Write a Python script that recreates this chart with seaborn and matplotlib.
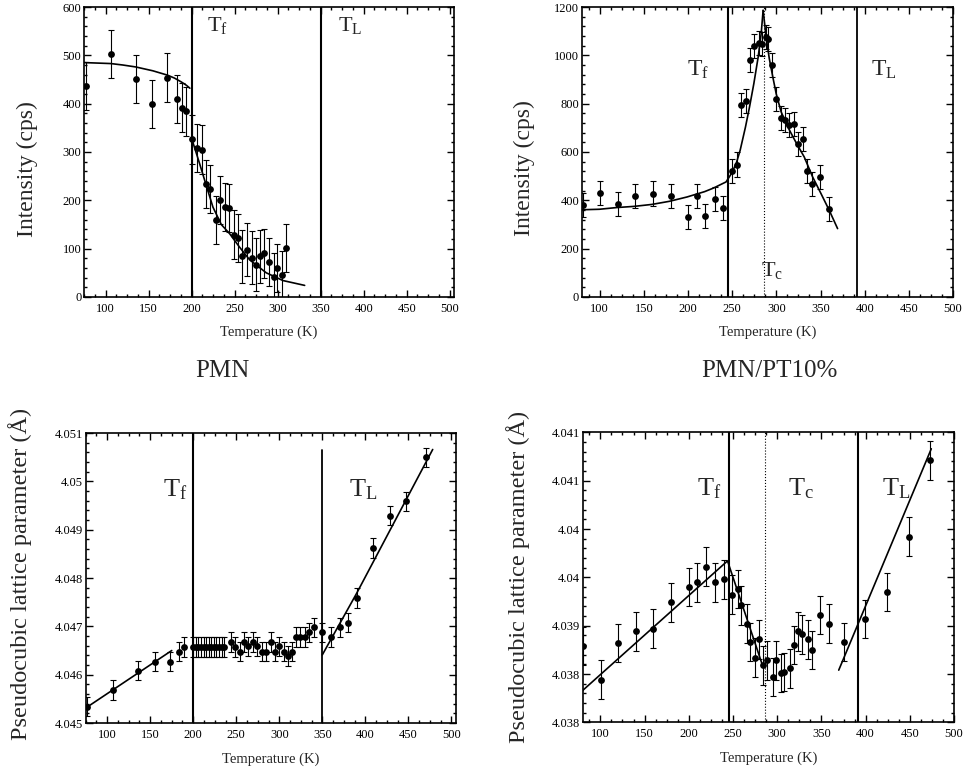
import numpy as np
import pandas as pd
import seaborn as sns
import matplotlib.pyplot as plt
from matplotlib.ticker import MultipleLocator, AutoMinorLocator, FixedLocator

# ---------------- data ----------------
# PMN, diffuse intensity
pmn_T = [76.7, 105.8, 134.9, 154.3, 171.7, 182.9, 188.4, 193.0, 200.0, 206.2,
         211.6, 216.3, 221.7, 227.9, 233.3, 238.8, 243.4, 248.8, 254.3, 258.9,
         264.3, 269.8, 275.2, 279.1, 284.5, 289.9, 295.3, 299.2, 304.7, 309.3]
pmn_I = [436, 503, 451, 399, 454, 409, 392, 384, 326, 308,
         305, 234, 224, 159, 200, 186, 184, 129, 122, 84,
         98, 81, 67, 84, 90, 72, 41, 60, 46, 101]
pmn_Ierr = [50, 50, 50, 50, 50, 50, 50, 50, 50, 50,
            50, 50, 50, 50, 50, 50, 50, 50, 50, 55,
            55, 55, 55, 55, 50, 50, 50, 50, 50, 50]
pmn_fit_lo_T = [75, 106, 120, 135, 155, 172, 180, 188, 194, 198]
pmn_fit_lo_I = [485, 483, 480, 476, 468, 459, 453, 445, 438, 432]
pmn_fit_hi_T = [200.8, 209.3, 217, 224.8, 234.5, 244.2, 255.8, 267.4, 286.8, 306.2, 331.4]
pmn_fit_hi_I = [324, 276, 231, 186, 150, 131, 103, 77, 50, 34, 24]

# PMN/PT10%, diffuse intensity
pt_T = [81.1, 100.7, 120.3, 140.3, 160.2, 180.2, 200.2, 210.3, 219.7, 230.3,
        240.1, 249.9, 255.1, 259.7, 265.7, 270.2, 275.1, 280.0, 283.4, 287.9,
        290.2, 295.4, 300.0, 305.2, 310.1, 314.6, 319.9, 324.8, 329.7, 335.0,
        339.9, 349.7, 359.8]
pt_I = [379, 432, 386, 417, 428, 417, 331, 417, 335, 404,
        368, 521, 548, 796, 810, 979, 1039, 1052, 1046, 1076,
        1066, 959, 821, 742, 731, 713, 717, 632, 655, 520,
        469, 497, 363]
pt_Ierr = [50] * 33
pt_fit_lo_T = [80, 99.6, 119, 139, 159, 179, 199, 218.8, 229, 239, 243, 249,
               254.5, 259, 265, 269.6, 274.5, 279.4, 282.8, 285]
pt_fit_lo_I = [361, 363, 370, 375, 383, 396, 414, 436, 451, 469, 476, 510,
               552, 607, 703, 786, 883, 993, 1090, 1186]
pt_fit_hi_T = [285, 288.4, 292, 296, 299.8, 305.4, 313, 322, 331.6, 341, 350.5, 359.8, 369.3]
pt_fit_hi_I = [1186, 1076, 986, 910, 841, 766, 703, 641, 579, 497, 428, 359, 283]

# PMN, lattice parameter
pmn_aT = [77.0, 106.5, 135.8, 155.5, 173.0, 183.8, 189.0,
          200, 203, 206, 209, 212, 215, 218, 221, 224, 227, 230, 233, 236,
          244, 249, 254, 259, 264, 270, 274.6, 280, 285, 290, 295, 300, 305,
          310, 315, 319.4, 323.7, 329.5, 335, 340, 350, 360, 370, 379.7,
          389.8, 409.5, 428.8, 447.8, 470.6]
pmn_a = [4.04534, 4.04568, 4.04608, 4.04627, 4.04627, 4.04648, 4.04657,
         4.04657, 4.04657, 4.04657, 4.04657, 4.04657, 4.04657, 4.04657,
         4.04657, 4.04657, 4.04657, 4.04657, 4.04657, 4.04657,
         4.04668, 4.04657, 4.04648, 4.04668, 4.04659, 4.04668, 4.04659,
         4.04648, 4.04648, 4.04668, 4.04648, 4.04659, 4.04648, 4.04639,
         4.04648, 4.04678, 4.04678, 4.04678, 4.04688, 4.04698, 4.04688,
         4.04678, 4.04698, 4.04708, 4.04759, 4.04862, 4.04929, 4.04959, 4.0505]
pmn_aerr = [0.0002] * len(pmn_a)
pmn_afit_lo_T = [75, 175]
pmn_afit_lo_a = [4.04531, 4.0465]
pmn_afit_hi_T = [350, 389.8, 478.3]
pmn_afit_hi_a = [4.04641, 4.04768, 4.05066]

# PMN/PT10%, lattice parameter
pt_aT = [80.8, 100.3, 120.3, 139.9, 159.8, 179.8, 199.8, 209.6, 219.4, 229.2,
         239.7, 249.1, 255.1, 259.3, 265.3, 269.0, 274.4, 278.9, 284.1, 288.7,
         294.7, 298.8, 304.0, 307.9, 314.3, 318.8, 324.0, 328.6, 335.0, 339.1,
         348.9, 359.1, 375.3, 399.8, 424.3, 449.5, 472.5]
pt_a = [4.03879, 4.03844, 4.03882, 4.03894, 4.03897, 4.03924, 4.0394, 4.03945,
        4.03961, 4.03945, 4.03948, 4.03932, 4.03938, 4.03921, 4.03902, 4.03883,
        4.03867, 4.03886, 4.03859, 4.03864, 4.03847, 4.03864, 4.03851, 4.03852,
        4.03856, 4.0388, 4.03894, 4.03891, 4.03886, 4.03875, 4.03911, 4.03902,
        4.03883, 4.03907, 4.03935, 4.03992, 4.04071]
pt_aerr = [0.0002] * len(pt_a)
pt_afit_T = [80, 243.8, 284.1]
pt_afit_a = [4.03833, 4.03967, 4.03857]
pt_afit_hi_T = [369.6, 474.3]
pt_afit_hi_a = [4.03854, 4.04083]

pmn_Tf, pmn_TL = 200, 350
pt_Tf, pt_Tc, pt_TL = 245, 286, 391

# ---------------- style ----------------
sns.set_theme(style='ticks')
plt.rcParams['font.family'] = ['Liberation Serif', 'DejaVu Serif']
plt.rcParams['mathtext.default'] = 'regular'
plt.rcParams['axes.linewidth'] = 1.2
plt.rcParams['xtick.direction'] = 'in'
plt.rcParams['ytick.direction'] = 'in'

fig = plt.figure(figsize=(9.66, 7.70), dpi=100)
ax1 = fig.add_axes([0.0870, 0.6143, 0.3830, 0.3766])
ax2 = fig.add_axes([0.6025, 0.6143, 0.3841, 0.3766])
ax3 = fig.add_axes([0.0887, 0.0610, 0.3830, 0.3766])
ax4 = fig.add_axes([0.6032, 0.0619, 0.3844, 0.3766])


def points(ax, x, y, err):
    ax.errorbar(x, y, yerr=err, fmt='none', ecolor='black', elinewidth=0.8,
                capsize=2.2, capthick=0.8, zorder=3)
    sns.scatterplot(x=x, y=y, ax=ax, color='black', s=24, edgecolor='black',
                    linewidth=0, zorder=4)


def fit(ax, x, y, lw=1.2):
    sns.lineplot(x=x, y=y, ax=ax, color='black', lw=lw, sort=False,
                 estimator=None, zorder=5)


def style(ax, xlim, ylim, ymajor, yticks=None, ylabels=None):
    ax.set_xlim(*xlim)
    ax.set_ylim(*ylim)
    ax.xaxis.set_major_locator(MultipleLocator(50))
    ax.xaxis.set_minor_locator(AutoMinorLocator(4))
    if yticks is not None:
        ax.yaxis.set_major_locator(FixedLocator(yticks))
        ax.set_yticklabels(ylabels)
    else:
        ax.yaxis.set_major_locator(MultipleLocator(ymajor))
    ax.yaxis.set_minor_locator(AutoMinorLocator(5))
    ax.tick_params(which='both', top=True, right=True, labelsize=9,
                   colors='black', width=1.0)
    ax.tick_params(which='major', length=5, pad=4)
    ax.tick_params(which='minor', length=2.5)
    ax.tick_params(axis='y', pad=2)
    for s in ax.spines.values():
        s.set_color('black')
    ax.set_xlabel('Temperature (K)', fontsize=10.5)
    ax.set_ylabel('')


# PMN intensity
points(ax1, pmn_T, pmn_I, pmn_Ierr)
fit(ax1, pmn_fit_lo_T, pmn_fit_lo_I)
fit(ax1, pmn_fit_hi_T, pmn_fit_hi_I)
ax1.axvline(pmn_Tf, color='black', lw=1.5)
ax1.axvline(pmn_TL, color='black', lw=1.5)
ax1.text(230.6, 562, r'T$_{f}$', fontsize=16, ha='center', va='center')
ax1.text(383.7, 562, r'T$_{L}$', fontsize=16, ha='center', va='center')
style(ax1, (75, 505), (0, 600), 100)
ax1.xaxis.set_label_coords(0.5, -0.1)

# PMN/PT10% intensity
points(ax2, pt_T, pt_I, pt_Ierr)
fit(ax2, pt_fit_lo_T, pt_fit_lo_I)
fit(ax2, pt_fit_hi_T, pt_fit_hi_I)
ax2.axvline(pt_Tf, color='black', lw=1.5)
ax2.axvline(pt_Tc, color='black', lw=0.8, ls=':')
ax2.axvline(pt_TL, color='black', lw=1.3)
ax2.text(211.8, 938, r'T$_{f}$', fontsize=17, ha='center', va='center')
ax2.text(421.6, 938, r'T$_{L}$', fontsize=17, ha='center', va='center')
ax2.text(294.7, 110, r'T$_{c}$', fontsize=16, ha='center', va='center')
style(ax2, (80, 500), (0, 1200), 200)
ax2.xaxis.set_label_coords(0.5, -0.1)

# PMN lattice parameter
points(ax3, pmn_aT, pmn_a, pmn_aerr)
fit(ax3, pmn_afit_lo_T, pmn_afit_lo_a)
fit(ax3, pmn_afit_hi_T, pmn_afit_hi_a)
ax3.axvline(pmn_Tf, color='black', lw=1.5)
ax3.axvline(pmn_TL, ymax=0.943, color='black', lw=1.3)
ax3.text(178.7, 4.04983, r'T$_{f}$', fontsize=19, ha='center', va='center')
ax3.text(397, 4.04983, r'T$_{L}$', fontsize=19, ha='center', va='center')
style(ax3, (75, 505), (4.045, 4.051), None,
      yticks=[4.045, 4.046, 4.047, 4.048, 4.049, 4.050, 4.051],
      ylabels=['4.045', '4.046', '4.047', '4.048', '4.049', '4.05', '4.051'])
ax3.xaxis.set_label_coords(0.5, -0.1)

# PMN/PT10% lattice parameter
points(ax4, pt_aT, pt_a, pt_aerr)
fit(ax4, pt_afit_T, pt_afit_a)
fit(ax4, pt_afit_hi_T, pt_afit_hi_a)
ax4.axvline(pt_Tf, color='black', lw=1.5)
ax4.axvline(pt_Tc, color='black', lw=0.8, ls=':')
ax4.axvline(pt_TL, color='black', lw=1.5)
ax4.text(223.1, 4.04042, r'T$_{f}$', fontsize=19, ha='center', va='center')
ax4.text(327.5, 4.04042, r'T$_{c}$', fontsize=19, ha='center', va='center')
ax4.text(434.8, 4.04042, r'T$_{L}$', fontsize=19, ha='center', va='center')
style(ax4, (80, 500), (4.038, 4.041), None,
      yticks=[4.038, 4.0385, 4.039, 4.0395, 4.040, 4.0405, 4.041],
      ylabels=['4.038', '4.038', '4.039', '4.04', '4.04', '4.041', '4.041'])
ax4.xaxis.set_label_coords(0.5, -0.1)

# axis titles placed like the original page
fig.text(0.028, 0.781, 'Intensity (cps)', rotation=90, fontsize=17,
         ha='center', va='center')
fig.text(0.5424, 0.782, 'Intensity (cps)', rotation=90, fontsize=17,
         ha='center', va='center')
fig.text(0.0207, 0.2545, 'Pseudocubic lattice parameter (Å)', rotation=90,
         fontsize=17.5, ha='center', va='center')
fig.text(0.536, 0.2506, 'Pseudocubic lattice parameter (Å)', rotation=90,
         fontsize=17.5, ha='center', va='center')
fig.text(0.2298, 0.518, 'PMN', fontsize=18, ha='center', va='center')
fig.text(0.797, 0.518, 'PMN/PT10%', fontsize=18, ha='center', va='center')

fig.savefig('out.png', dpi=100)
